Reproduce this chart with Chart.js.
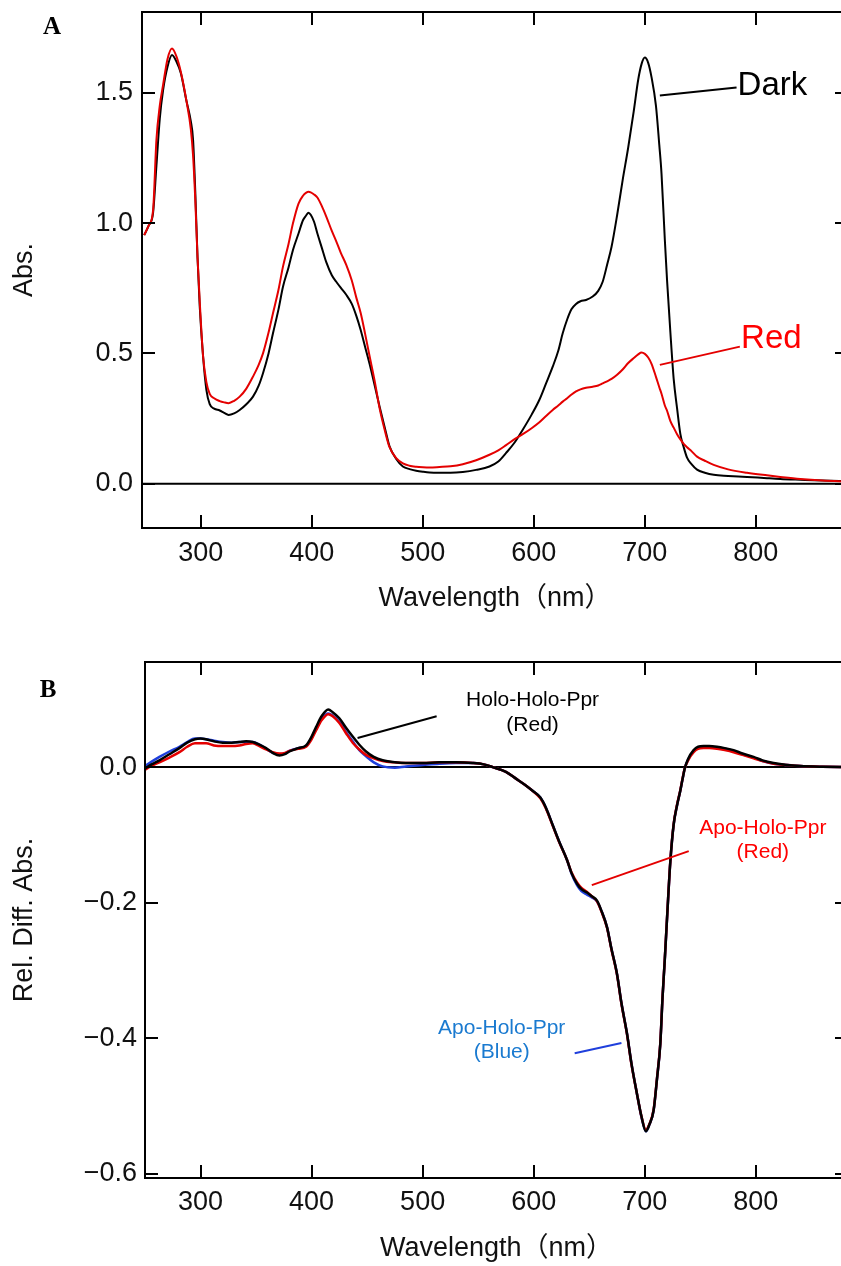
<!DOCTYPE html>
<html>
<head>
<meta charset="utf-8">
<title>Absorption spectra</title>
<script src="https://cdn.jsdelivr.net/npm/chart.js@4.4.0/dist/chart.umd.min.js"></script>
<style>
  html, body { margin: 0; padding: 0; background: #fff; overflow: hidden; width: 841px; height: 1266px; }
  canvas { position: absolute; left: 0; display: block; }
</style>
</head>
<body>
<canvas id="panelA" width="860" height="620" style="top:0;width:860px;height:620px"></canvas>
<canvas id="panelB" width="860" height="636" style="top:630px;width:860px;height:636px"></canvas>
<script>
// ---- shared axis ticks ----
const xTicks = [300, 400, 500, 600, 700, 800];
const absTicks = [0, 0.5, 1.0, 1.5];
const diffTicks = [0, -0.2, -0.4, -0.6];

// ---- panel A: absorption spectra (nm) ----
const wavelengthA = [
  249,253,257,260,263,266,270,274,278,282,
  287,291,293,295,297,299,302,305,308,312,
  317,321,325,330,335,341,347,352,356,361,
  365,370,374,379,383,388,392,395,397,399,
  402,405,409,413,418,422,426,431,436,440,
  444,448,452,457,461,466,470,476,482,488,
  494,500,506,515,525,536,548,560,568,575,
  583,590,598,605,611,617,622,626,630,634,
  638,642,647,653,658,662,666,670,675,680,
  685,690,694,697,700,703,706,710,713,715,
  718,720,723,726,729,732,735,738,742,747,
  754,762,775,792,810,822,840,860,883
];
const darkAbs = [
  0.954,0.99,1.04,1.22,1.40,1.51,1.60,1.645,1.62,1.575,
  1.47,1.39,1.32,1.12,0.87,0.68,0.49,0.36,0.305,0.288,
  0.281,0.272,0.264,0.27,0.283,0.305,0.334,0.375,0.424,0.50,
  0.577,0.67,0.756,0.83,0.897,0.96,1.011,1.03,1.04,1.032,
  1.005,0.96,0.905,0.85,0.80,0.775,0.752,0.725,0.69,0.645,
  0.59,0.525,0.46,0.37,0.296,0.21,0.143,0.095,0.066,0.056,
  0.05,0.046,0.043,0.042,0.042,0.045,0.053,0.066,0.085,0.118,
  0.16,0.207,0.265,0.322,0.385,0.449,0.51,0.577,0.63,0.67,
  0.69,0.70,0.705,0.718,0.74,0.775,0.84,0.909,1.03,1.165,
  1.29,1.43,1.55,1.61,1.635,1.615,1.56,1.45,1.30,1.19,
  0.935,0.78,0.58,0.40,0.29,0.19,0.14,0.10,0.075,0.054,
  0.042,0.034,0.03,0.026,0.021,0.018,0.015,0.012,0.01
];
const redAbs = [
  0.954,0.99,1.05,1.32,1.45,1.53,1.63,1.67,1.64,1.58,
  1.47,1.36,1.26,1.09,0.87,0.70,0.49,0.39,0.345,0.328,
  0.317,0.312,0.309,0.318,0.334,0.365,0.411,0.455,0.50,0.58,
  0.654,0.745,0.833,0.92,0.999,1.075,1.105,1.117,1.12,1.118,
  1.11,1.098,1.065,1.025,0.97,0.93,0.887,0.84,0.78,0.715,
  0.655,0.575,0.49,0.385,0.29,0.20,0.14,0.098,0.078,0.069,
  0.065,0.063,0.062,0.064,0.067,0.075,0.09,0.111,0.128,0.148,
  0.172,0.19,0.213,0.236,0.26,0.283,0.30,0.315,0.328,0.342,
  0.354,0.362,0.368,0.372,0.377,0.385,0.393,0.402,0.418,0.438,
  0.463,0.482,0.496,0.503,0.498,0.484,0.46,0.41,0.37,0.345,
  0.30,0.28,0.24,0.215,0.19,0.17,0.153,0.14,0.125,0.104,
  0.088,0.072,0.055,0.042,0.032,0.026,0.018,0.012,0.008
];

// ---- panel B: relative difference spectra (nm) ----
const wavelengthB = [
  250,256,263,272,281,288,295,300,305,312,
  320,328,335,341,347,353,359,365,371,376,
  380,388,395,400,404,409,415,419,425,431,
  437,443,449,456,464,475,485,500,515,530,
  545,555,563,575,584,592,599,606,611,617,
  623,630,634,639,643,648,652,657,661,666,
  670,675,679,684,688,693,697,701,704,708,
  711,714,716,718,721,723,726,729,732,734,
  736,739,744,748,753,758,765,772,780,788,
  798,806,816,828,840,860,883
];
const holoHoloRed = [
  -0.002,0.004,0.010,0.019,0.028,0.036,0.041,0.042,0.041,0.038,
  0.036,0.036,0.037,0.038,0.037,0.033,0.028,0.021,0.017,0.019,
  0.023,0.028,0.032,0.045,0.059,0.075,0.085,0.081,0.072,0.058,
  0.045,0.033,0.023,0.015,0.010,0.007,0.006,0.006,0.007,0.007,
  0.006,0.004,0.000,-0.007,-0.017,-0.026,-0.035,-0.045,-0.060,-0.085,
  -0.110,-0.137,-0.156,-0.172,-0.180,-0.185,-0.190,-0.197,-0.212,-0.236,
  -0.268,-0.305,-0.348,-0.393,-0.437,-0.482,-0.515,-0.537,-0.528,-0.506,
  -0.460,-0.408,-0.340,-0.285,-0.195,-0.140,-0.085,-0.057,-0.035,-0.018,
  -0.002,0.012,0.025,0.030,0.031,0.031,0.030,0.028,0.025,0.020,
  0.015,0.010,0.006,0.003,0.0015,0.0005,0.000
];
const apoHoloRed = [
  -0.004,0.002,0.007,0.014,0.022,0.030,0.035,0.035,0.035,0.032,
  0.031,0.031,0.032,0.034,0.035,0.031,0.026,0.022,0.020,0.021,
  0.024,0.027,0.030,0.041,0.054,0.069,0.078,0.075,0.065,0.050,
  0.036,0.026,0.018,0.013,0.009,0.007,0.006,0.006,0.007,0.007,
  0.006,0.004,0.000,-0.007,-0.017,-0.026,-0.035,-0.046,-0.061,-0.086,
  -0.111,-0.137,-0.155,-0.170,-0.178,-0.184,-0.190,-0.198,-0.213,-0.237,
  -0.269,-0.306,-0.349,-0.394,-0.438,-0.482,-0.515,-0.535,-0.527,-0.505,
  -0.459,-0.407,-0.339,-0.284,-0.194,-0.139,-0.084,-0.056,-0.034,-0.017,
  -0.002,0.010,0.022,0.027,0.028,0.028,0.027,0.025,0.022,0.018,
  0.013,0.009,0.005,0.003,0.0015,0.0005,0.000
];
const apoHoloBlue = [
  0.0015,0.008,0.015,0.023,0.030,0.037,0.042,0.042,0.041,0.039,
  0.037,0.036,0.037,0.037,0.037,0.033,0.027,0.021,0.019,0.020,
  0.024,0.028,0.031,0.043,0.056,0.071,0.079,0.076,0.067,0.052,
  0.038,0.025,0.016,0.007,0.001,-0.001,0.001,0.003,0.005,0.006,
  0.006,0.004,0.000,-0.007,-0.017,-0.026,-0.035,-0.045,-0.060,-0.085,
  -0.110,-0.137,-0.157,-0.174,-0.183,-0.188,-0.192,-0.198,-0.212,-0.236,
  -0.268,-0.305,-0.348,-0.393,-0.437,-0.482,-0.516,-0.537,-0.528,-0.506,
  -0.460,-0.408,-0.340,-0.285,-0.195,-0.140,-0.085,-0.057,-0.035,-0.018,
  -0.002,0.011,0.024,0.029,0.030,0.030,0.029,0.027,0.024,0.019,
  0.014,0.009,0.005,0.003,0.0015,0.0005,0.000
];

// ---- styling ----
const FONT = "'Liberation Sans', 'Noto Sans CJK JP', Arial, sans-serif";
const SERIF = "'Liberation Serif', 'Times New Roman', serif";
const INK = '#111';
const RED = '#e40000';
const BLUE = '#1f3fdc';

const points = (xs, ys) => xs.map((x, i) => ({ x, y: ys[i] }));
const fmtY = v => v === 0 ? '0.0' : (v < 0 ? '\u2212' + Math.abs(v).toFixed(1) : v.toFixed(1));

// Inward tick marks on all four sides, zero baseline, callouts and panel letter
const decorations = {
  id: 'decorations',
  beforeDatasetsDraw(chart) {
    const { ctx, chartArea: a, scales: { y } } = chart;
    const y0 = y.getPixelForValue(0);
    ctx.save();
    ctx.strokeStyle = '#000';
    ctx.lineWidth = 2;
    ctx.beginPath();
    ctx.moveTo(a.left, y0);
    ctx.lineTo(a.right, y0);
    ctx.stroke();
    ctx.restore();
  },
  afterDraw(chart, args, opts) {
    const { ctx, chartArea: a, scales: { x, y } } = chart;
    const L = 13;
    ctx.save();
    ctx.strokeStyle = '#000';
    ctx.lineWidth = 2;
    ctx.strokeRect(a.left, a.top, a.right - a.left, a.bottom - a.top);
    ctx.beginPath();
    x.ticks.forEach(t => {
      const p = Math.round(x.getPixelForValue(t.value));
      ctx.moveTo(p, a.bottom); ctx.lineTo(p, a.bottom - L);
      ctx.moveTo(p, a.top); ctx.lineTo(p, a.top + L);
    });
    y.ticks.forEach(t => {
      const p = Math.round(y.getPixelForValue(t.value));
      ctx.moveTo(a.left, p); ctx.lineTo(a.left + L, p);
      ctx.moveTo(a.right, p); ctx.lineTo(a.right - L, p);
    });
    ctx.stroke();

    (opts.leaders || []).forEach(l => {
      ctx.strokeStyle = l.color;
      ctx.lineWidth = 2;
      ctx.beginPath();
      ctx.moveTo(x.getPixelForValue(l.from[0]), y.getPixelForValue(l.from[1]));
      ctx.lineTo(x.getPixelForValue(l.to[0]), y.getPixelForValue(l.to[1]));
      ctx.stroke();
    });

    (opts.notes || []).forEach(n => {
      ctx.fillStyle = n.color;
      ctx.font = n.size + 'px ' + FONT;
      ctx.textAlign = n.align;
      ctx.textBaseline = 'middle';
      const px = x.getPixelForValue(n.at[0]);
      const py = y.getPixelForValue(n.at[1]);
      n.lines.forEach((s, i) => ctx.fillText(s, px, py + i * n.lineStep));
    });

    if (opts.panel) {
      ctx.fillStyle = '#000';
      ctx.font = 'bold 25px ' + SERIF;
      ctx.textAlign = 'center';
      ctx.textBaseline = 'middle';
      ctx.fillText(opts.panel.text, opts.panel.pos[0], opts.panel.pos[1]);
    }
    ctx.restore();
  }
};

function axisX(min, max, height, tickPad, titlePad) {
  return {
    type: 'linear', position: 'bottom', min, max,
    afterBuildTicks: s => { s.ticks = xTicks.map(v => ({ value: v })); },
    afterFit: s => { s.height = height; s.paddingLeft = 0; s.paddingRight = 0; },
    grid: { display: false, drawTicks: false },
    border: { display: false },
    ticks: { color: INK, font: { family: FONT, size: 27 }, padding: tickPad, maxRotation: 0, autoSkip: false, callback: v => String(v) },
    title: { display: true, text: 'Wavelength\uFF08nm\uFF09', color: INK, font: { family: FONT, size: 27 }, padding: { top: 0, bottom: titlePad } }
  };
}
function axisY(min, max, ticks, width, title, tickPad, titlePad) {
  return {
    type: 'linear', position: 'left', min, max,
    afterBuildTicks: s => { s.ticks = ticks.map(v => ({ value: v })); },
    afterFit: s => { s.width = width; s.paddingTop = 0; s.paddingBottom = 0; },
    grid: { display: false, drawTicks: false },
    border: { display: false },
    ticks: { color: INK, font: { family: FONT, size: 27 }, padding: tickPad, callback: fmtY },
    title: { display: true, text: title, color: INK, font: { family: FONT, size: 27 }, padding: { top: titlePad, bottom: 0 } }
  };
}
const line = (label, data, color, width) => ({
  label, data, borderColor: color, borderWidth: width, pointRadius: 0,
  fill: false, cubicInterpolationMode: 'monotone'
});

// ---- panel A ----
new Chart(document.getElementById('panelA'), {
  type: 'line',
  data: {
    datasets: [
      line('Red', points(wavelengthA, redAbs), RED, 2),
      line('Dark', points(wavelengthA, darkAbs), '#000', 2)
    ]
  },
  options: {
    responsive: false, animation: false, devicePixelRatio: 1,
    layout: { padding: { left: 0, right: 12, top: 12, bottom: 0 } },
    scales: {
      x: axisX(247, 883, 92, 9, 5),
      y: axisY(-0.17, 1.81, absTicks, 142, 'Abs.', 9, 8)
    },
    plugins: {
      legend: { display: false }, tooltip: { enabled: false },
      decorations: {
        panel: { text: 'A', pos: [52, 28] },
        leaders: [
          { from: [713.5, 1.490], to: [782.6, 1.520], color: '#000' },
          { from: [713.5, 0.456], to: [785.6, 0.526], color: RED }
        ],
        notes: [
          { lines: ['Dark'], at: [783.5, 1.527], color: '#000', size: 33, align: 'left', lineStep: 0 },
          { lines: ['Red'], at: [786.7, 0.554], color: '#ff0000', size: 33, align: 'left', lineStep: 0 }
        ]
      }
    }
  },
  plugins: [decorations]
});

// ---- panel B ----
new Chart(document.getElementById('panelB'), {
  type: 'line',
  data: {
    datasets: [
      line('Holo-Holo-Ppr (Red)', points(wavelengthB, holoHoloRed), '#000', 2.5),
      line('Apo-Holo-Ppr (Red)', points(wavelengthB, apoHoloRed), RED, 2.5),
      line('Apo-Holo-Ppr (Blue)', points(wavelengthB, apoHoloBlue), BLUE, 2.5)
    ]
  },
  options: {
    responsive: false, animation: false, devicePixelRatio: 1,
    layout: { padding: { left: 0, right: 12, top: 32, bottom: 0 } },
    scales: {
      x: axisX(250, 883, 88, 8, 1),
      y: axisY(-0.606, 0.155, diffTicks, 145, 'Rel. Diff. Abs.', 8, 8)
    },
    plugins: {
      legend: { display: false }, tooltip: { enabled: false },
      decorations: {
        panel: { text: 'B', pos: [48, 61] },
        leaders: [
          { from: [441.4, 0.043], to: [512.6, 0.075], color: '#000' },
          { from: [652.3, -0.174], to: [739.6, -0.124], color: RED },
          { from: [636.9, -0.422], to: [679.0, -0.407], color: BLUE }
        ],
        notes: [
          { lines: ['Holo-Holo-Ppr', '(Red)'], at: [599, 0.099], color: '#000', size: 21, align: 'center', lineStep: 25 },
          { lines: ['Apo-Holo-Ppr', '(Red)'], at: [806.3, -0.090], color: '#ff0000', size: 21, align: 'center', lineStep: 24 },
          { lines: ['Apo-Holo-Ppr', '(Blue)'], at: [571.2, -0.385], color: '#1a7ad0', size: 21, align: 'center', lineStep: 24 }
        ]
      }
    }
  },
  plugins: [decorations]
});
</script>
</body>
</html>
